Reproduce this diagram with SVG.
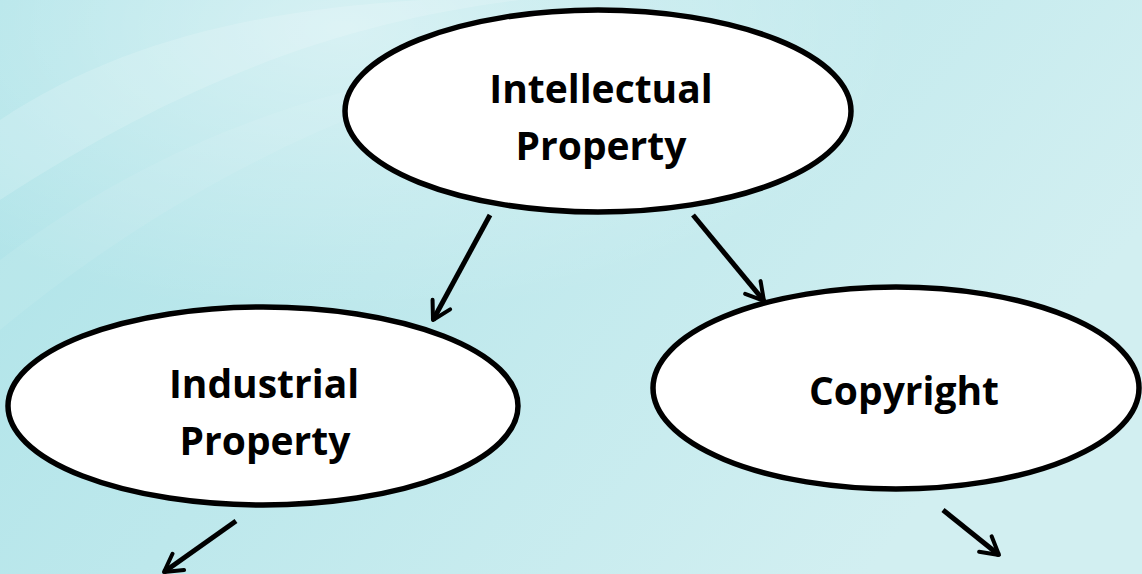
<svg xmlns="http://www.w3.org/2000/svg" width="1142" height="574" viewBox="0 0 1142 574">
  <defs>
    <linearGradient id="bg" x1="0" y1="0" x2="1" y2="0.4">
      <stop offset="0" stop-color="#ade3e8"/>
      <stop offset="0.45" stop-color="#bde8ec"/>
      <stop offset="1" stop-color="#d2eff1"/>
    </linearGradient>
    <radialGradient id="glow" cx="0.3" cy="0.05" r="0.5">
      <stop offset="0" stop-color="#ffffff" stop-opacity="0.45"/>
      <stop offset="1" stop-color="#ffffff" stop-opacity="0"/>
    </radialGradient>
    <marker id="head" viewBox="0 0 20 20" refX="17" refY="10" markerWidth="5" markerHeight="5" markerUnits="strokeWidth" orient="auto">
      <path d="M3,2 L17,10 L3,18" fill="none" stroke="#000" stroke-width="3.2" stroke-linecap="round" stroke-linejoin="round"/>
    </marker>
  </defs>
  <style>
    .node ellipse { fill: #ffffff; stroke: #000000; stroke-width: 5.5; }
    .label { font-family: "Open Sans", "Liberation Sans", sans-serif; font-weight: bold; font-size: 39px; fill: #000; text-anchor: middle; }
    .edge { stroke: #000; stroke-width: 5; fill: none; marker-end: url(#head); }
  </style>

  <!-- backdrop -->
  <rect width="1142" height="574" fill="url(#bg)"/>
  <rect width="1142" height="574" fill="url(#glow)"/>
  <path d="M0,120 C120,40 260,10 420,0 L520,0 C360,20 200,70 0,200 Z" fill="#ffffff" opacity="0.16"/>
  <path d="M0,260 C160,140 330,80 520,60 C340,110 170,190 0,330 Z" fill="#ffffff" opacity="0.08"/>

  <g id="connectors">
    <line class="edge" x1="490" y1="215" x2="433" y2="320"/>
    <line class="edge" x1="693" y1="215" x2="764" y2="301"/>
    <line class="edge" x1="236" y1="521" x2="164" y2="572"/>
    <line class="edge" x1="943" y1="510" x2="999" y2="555"/>
  </g>

  <g id="intellectual-property" class="node">
    <ellipse cx="598" cy="111" rx="253" ry="101"/>
    <text class="label" x="601" y="103">Intellectual</text>
    <text class="label" x="601" y="160">Property</text>
  </g>

  <g id="industrial-property" class="node">
    <ellipse cx="263" cy="406" rx="255" ry="99"/>
    <text class="label" x="264" y="398">Industrial</text>
    <text class="label" x="265" y="455">Property</text>
  </g>

  <g id="copyright" class="node">
    <ellipse cx="896" cy="388" rx="243" ry="101"/>
    <text class="label" x="904" y="405">Copyright</text>
  </g>
</svg>
